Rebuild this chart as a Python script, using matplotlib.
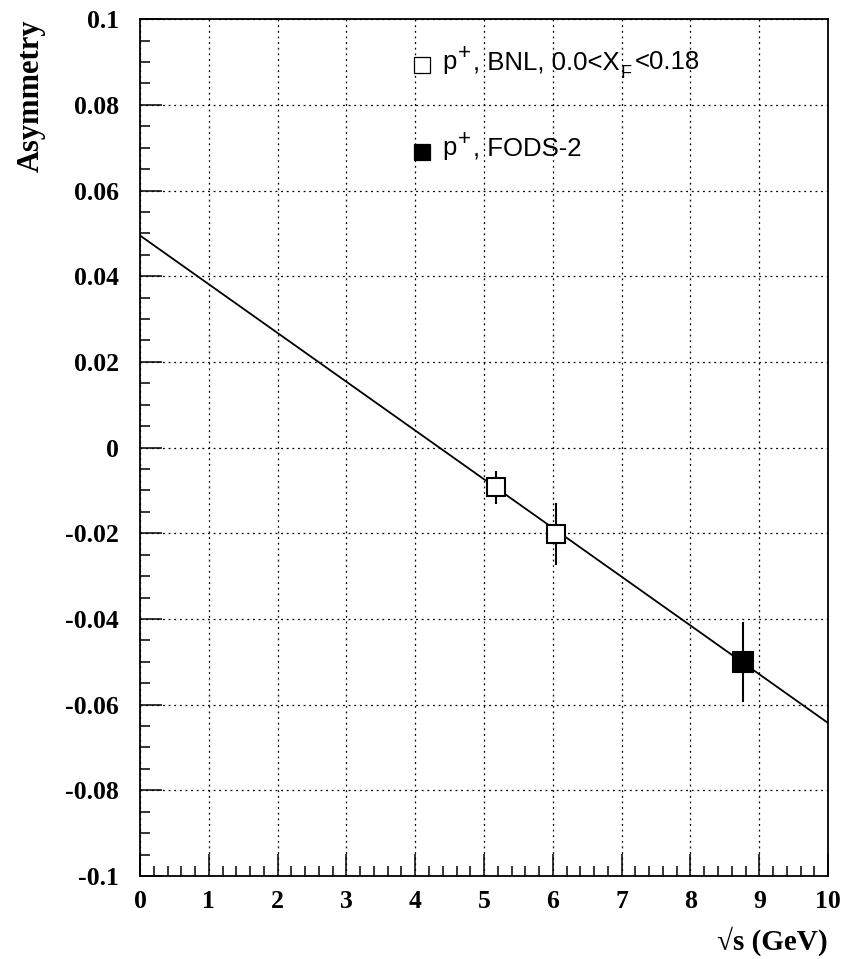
import numpy as np
import matplotlib
matplotlib.use('Agg')
import matplotlib.pyplot as plt
import matplotlib.transforms as mtransforms
from matplotlib.ticker import MultipleLocator

plt.rcParams['font.family'] = ['Liberation Serif', 'DejaVu Serif']

# Measured asymmetries
bnl_sqrt_s = [5.17, 6.05]
bnl_asym = [-0.0093, -0.0201]
bnl_err = [0.0039, 0.0072]

fods_sqrt_s = [8.76]
fods_asym = [-0.0500]
fods_err = [0.0093]

# Linear fit A = a + b*sqrt(s)
fit_a = 0.0495
fit_b = -0.01138

x_ticks = list(range(11))
y_ticks = [-0.1, -0.08, -0.06, -0.04, -0.02, 0, 0.02, 0.04, 0.06, 0.08, 0.1]
y_tick_labels = ['-0.1', '-0.08', '-0.06', '-0.04', '-0.02', '0',
                 '0.02', '0.04', '0.06', '0.08', '0.1']

fig = plt.figure(figsize=(8.45, 9.59), dpi=100)
ax = fig.add_axes([0.1657, 0.0866, 0.8143, 0.8934])

xs = np.linspace(0, 10, 2)
ax.plot(xs, fit_a + fit_b * xs, color='black', lw=1.3, zorder=2)

ax.errorbar(bnl_sqrt_s, bnl_asym, yerr=bnl_err, fmt='s', ms=13.5, mfc='white',
            mec='black', mew=1.5, ecolor='black', elinewidth=1.5, capsize=0, zorder=3)
ax.errorbar(fods_sqrt_s, fods_asym, yerr=fods_err, fmt='s', ms=14, mfc='black',
            mec='black', mew=1.5, ecolor='black', elinewidth=1.5, capsize=0, zorder=3)

ax.set_xlim(0, 10)
ax.set_ylim(-0.1, 0.1)
ax.set_xticks(x_ticks)
ax.set_xticklabels([str(i) for i in x_ticks], fontweight='bold')
ax.set_yticks(y_ticks)
ax.set_yticklabels(y_tick_labels, fontweight='bold')
ax.xaxis.set_minor_locator(MultipleLocator(0.2))
ax.yaxis.set_minor_locator(MultipleLocator(0.005))
ax.tick_params(which='both', direction='in', top=False, right=False, labelsize=18.5)
ax.tick_params(axis='y', which='major', pad=15)
ax.tick_params(axis='x', which='major', pad=10)
ax.tick_params(which='major', length=16, width=1.1)
ax.tick_params(which='minor', length=7, width=1.1)
ax.grid(True, which='major', linestyle=(0, (1.5, 3)), color='black', lw=0.9)
for sp in ax.spines.values():
    sp.set_linewidth(1.3)

ax.set_ylabel('Asymmetry', fontsize=22, fontweight='bold', loc='top', labelpad=14)
ax.set_xlabel('√s (GeV)', fontsize=21, fontweight='bold', loc='right', labelpad=10)

renderer = fig.canvas.get_renderer()


def chain_text(x, y, pieces):
    # pieces: (text, vertical shift px, font size, gap after px), laid out left to right
    xoff = 0
    for s, dy, size, gap in pieces:
        tr = mtransforms.offset_copy(ax.transAxes, fig=fig, x=xoff, y=dy, units='dots')
        t = ax.text(x, y, s, transform=tr, fontsize=size, va='baseline', ha='left',
                    family=['Liberation Sans', 'DejaVu Sans'])
        xoff += t.get_window_extent(renderer).width + gap


# Legend entries
ax.plot([0.41], [0.946], 's', ms=12, mfc='white', mec='black', mew=0.9,
        transform=ax.transAxes, clip_on=False)
chain_text(0.44, 0.9417, [('p', 0, 18.5, 1), ('+', 10, 16, 2),
                          (', BNL, 0.0<X', 0, 18.5, 1), ('F', -9, 13, 3),
                          ('<0.18', 0, 18.5, 0)])
ax.plot([0.41], [0.845], 's', ms=12, mfc='black', mec='black', mew=0.9,
        transform=ax.transAxes, clip_on=False)
chain_text(0.44, 0.8413, [('p', 0, 18.5, 1), ('+', 10, 16, 2), (', FODS-2', 0, 18.5, 0)])

fig.savefig('out.png', dpi=100)
